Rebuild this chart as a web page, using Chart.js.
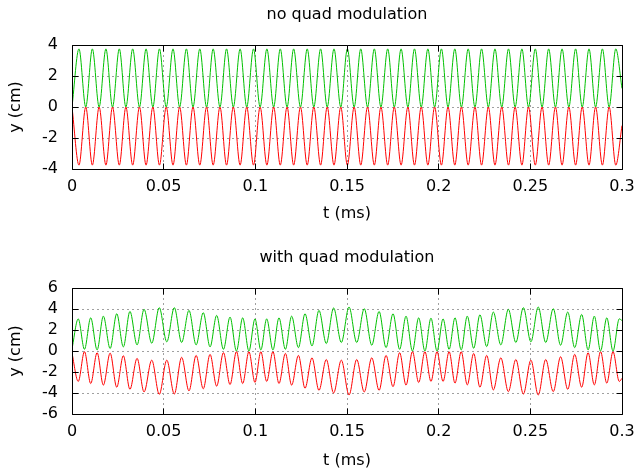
<!DOCTYPE html>
<html><head><meta charset="utf-8">
<script src="https://cdn.jsdelivr.net/npm/chart.js@4/dist/chart.umd.min.js"></script>
<style>
html,body{margin:0;padding:0;background:#fff;}
#wrap{position:relative;width:636px;height:470px;overflow:hidden;}
.box{position:absolute;left:0;width:636px;height:235px;}
</style></head><body>
<div id="wrap">
<div class="box" style="top:0"><canvas id="c1" width="636" height="235"></canvas></div>
<div class="box" style="top:235px"><canvas id="c2" width="636" height="235"></canvas></div>
</div>
<script>
// ---- tick labels ----
const xTickValues = [0, 0.05, 0.1, 0.15, 0.2, 0.25, 0.3];
const xTickLabels = ['0', '0.05', '0.1', '0.15', '0.2', '0.25', '0.3'];
const yTickTopValues = [-4, -2, 0, 2, 4];
const yTickTopLabels = ['-4', '-2', '0', '2', '4'];
const yTickBotValues = [-6, -4, -2, 0, 2, 4, 6];
const yTickBotLabels = ['-6', '-4', '-2', '0', '2', '4', '6'];

// ---- top panel: no quad modulation (times of turning points, ms) ----
const tTop = [0,
 0.0038,0.0075, 0.0111,0.0148, 0.0185,0.0221, 0.0258,0.0294, 0.0331,0.0368,
 0.0404,0.0441, 0.0477,0.0514, 0.0551,0.0587, 0.0624,0.0660, 0.0697,0.0734,
 0.0770,0.0807, 0.0843,0.0880, 0.0917,0.0953, 0.0990,0.1026, 0.1063,0.1100,
 0.1136,0.1173, 0.1209,0.1246, 0.1283,0.1319, 0.1356,0.1392, 0.1429,0.1466,
 0.1502,0.1539, 0.1575,0.1612, 0.1649,0.1685, 0.1722,0.1758, 0.1795,0.1832,
 0.1868,0.1905, 0.1941,0.1978, 0.2015,0.2051, 0.2088,0.2124, 0.2161,0.2198,
 0.2234,0.2271, 0.2307,0.2344, 0.2381,0.2417, 0.2454,0.2490, 0.2527,0.2564,
 0.2600,0.2637, 0.2673,0.2710, 0.2747,0.2783, 0.2820,0.2856, 0.2893,0.2930,
 0.2966, 0.3];
const greenTop = [0,
 3.75,0, 3.75,0, 3.75,0, 3.75,0, 3.75,0, 3.75,0, 3.75,0, 3.75,0, 3.75,0, 3.75,0,
 3.75,0, 3.75,0, 3.75,0, 3.75,0, 3.75,0, 3.75,0, 3.75,0, 3.75,0, 3.75,0, 3.75,0,
 3.75,0, 3.75,0, 3.75,0, 3.75,0, 3.75,0, 3.75,0, 3.75,0, 3.75,0, 3.75,0, 3.75,0,
 3.75,0, 3.75,0, 3.75,0, 3.75,0, 3.75,0, 3.75,0, 3.75,0, 3.75,0, 3.75,0, 3.75,0,
 3.75, 1.2];
const redTop = [0,
 -3.75,0, -3.75,0, -3.75,0, -3.75,0, -3.75,0, -3.75,0, -3.75,0, -3.75,0, -3.75,0, -3.75,0,
 -3.75,0, -3.75,0, -3.75,0, -3.75,0, -3.75,0, -3.75,0, -3.75,0, -3.75,0, -3.75,0, -3.75,0,
 -3.75,0, -3.75,0, -3.75,0, -3.75,0, -3.75,0, -3.75,0, -3.75,0, -3.75,0, -3.75,0, -3.75,0,
 -3.75,0, -3.75,0, -3.75,0, -3.75,0, -3.75,0, -3.75,0, -3.75,0, -3.75,0, -3.75,0, -3.75,0,
 -3.75, -1.2];

// ---- bottom panel: with quad modulation ----
const tBot = [0,
 0.0034,0.0068, 0.0102,0.0137, 0.0171,0.0208, 0.0244,0.0280, 0.0316,0.0355,
 0.0393,0.0435, 0.0476,0.0517, 0.0558,0.0598, 0.0638,0.0677, 0.0716,0.0753,
 0.0789,0.0826, 0.0862,0.0897, 0.0931,0.0965, 0.0998,0.1030, 0.1062,0.1096,
 0.1129,0.1164, 0.1198,0.1235, 0.1271,0.1309, 0.1347,0.1387, 0.1427,0.1469,
 0.1511,0.1553, 0.1594,0.1635, 0.1675,0.1713, 0.1751,0.1787, 0.1822,0.1857,
 0.1891,0.1925, 0.1958,0.1991, 0.2024,0.2057, 0.2089,0.2123, 0.2156,0.2191,
 0.2225,0.2262, 0.2298,0.2339, 0.2380,0.2421, 0.2462,0.2503, 0.2543,0.2584,
 0.2625,0.2665, 0.2704,0.2742, 0.2780,0.2815, 0.2849,0.2883, 0.2917,0.2951,
 0.2985, 0.3];
const greenBot = [0.2,
 3.06,0.16, 3.16,0.10, 3.32,0.23, 3.55,0.39, 3.77,0.58,
 3.97,0.74, 4.13,0.87, 4.13,0.81, 3.87,0.58, 3.65,0.39,
 3.39,0.16, 3.23,0.00, 3.16,0.00, 3.06,0.10, 3.06,0.10,
 3.16,0.16, 3.32,0.32, 3.55,0.48, 3.87,0.71, 4.10,0.81,
 4.19,0.81, 4.03,0.55, 3.77,0.32, 3.55,0.16, 3.32,0.00,
 3.16,0.00, 3.13,0.00, 3.06,0.16, 3.16,0.10, 3.32,0.26,
 3.45,0.42, 3.71,0.58, 3.97,0.81, 4.13,0.87, 4.19,0.81,
 4.03,0.55, 3.71,0.32, 3.48,0.10, 3.32,0.00, 3.16,0.00,
 3.06, 2.9];
const redBot = [-0.2,
 -2.90,-0.06, -3.10,-0.16, -3.25,-0.20, -3.45,-0.45, -3.65,-0.70,
 -3.90,-0.87, -4.13,-0.87, -4.10,-0.60, -3.80,-0.42, -3.60,-0.32,
 -3.35,-0.16, -3.20,-0.06, -3.10,-0.06, -3.00,-0.06, -2.90,-0.06,
 -3.10,-0.23, -3.25,-0.42, -3.55,-0.65, -3.75,-0.81, -4.00,-0.87,
 -4.19,-0.81, -3.90,-0.65, -3.75,-0.42, -3.40,-0.16, -3.25,-0.06,
 -3.00,-0.06, -2.90,-0.06, -2.90,-0.06, -3.06,-0.06, -3.23,-0.23,
 -3.45,-0.42, -3.71,-0.65, -3.87,-0.81, -4.10,-0.87, -4.19,-0.81,
 -3.87,-0.55, -3.65,-0.32, -3.45,-0.16, -3.23,-0.06, -3.06,-0.06,
 -2.9, -2.6];

const FONT = "'DejaVu Sans', sans-serif";
const font = {family: FONT, size: 16, weight: 'normal'};

const framePlugin = {
  id: 'frame',
  afterDatasetsDraw(chart) {
    const {ctx, chartArea: a, scales: {x, y}} = chart;
    const al = p => Math.round(p - 0.5) + 0.5;
    const L = al(a.left), R = al(a.right), T = al(a.top), B = al(a.bottom);
    ctx.save();
    ctx.strokeStyle = '#000';
    ctx.lineWidth = 1;
    ctx.beginPath();
    x.ticks.forEach(t => {
      const px = al(x.getPixelForValue(t.value));
      ctx.moveTo(px, B); ctx.lineTo(px, B - 6);
      ctx.moveTo(px, T); ctx.lineTo(px, T + 6);
    });
    y.ticks.forEach(t => {
      const py = al(y.getPixelForValue(t.value));
      ctx.moveTo(L, py); ctx.lineTo(L + 6, py);
      ctx.moveTo(R, py); ctx.lineTo(R - 6, py);
    });
    ctx.rect(L, T, R - L, B - T);
    ctx.stroke();
    // panel title, centred over the plot area
    const ttl = chart.options.plugins.frame;
    ctx.fillStyle = '#000';
    ctx.font = "16px " + FONT;
    ctx.textAlign = 'center';
    ctx.textBaseline = 'middle';
    ctx.fillText(ttl.text, (a.left + a.right) / 2, ttl.y);
    ctx.restore();
  }
};

function makeChart(id, cfg) {
  const pts = arr => cfg.t.map((t, i) => ({x: t, y: arr[i]}));
  return new Chart(document.getElementById(id), {
    type: 'line',
    data: {datasets: [
      {data: pts(cfg.green), borderColor: '#00c000', borderWidth: 1, pointRadius: 0,
       cubicInterpolationMode: 'monotone', fill: false},
      {data: pts(cfg.red), borderColor: '#ff0000', borderWidth: 1, pointRadius: 0,
       cubicInterpolationMode: 'monotone', fill: false}
    ]},
    options: {
      responsive: false, animation: false, devicePixelRatio: 1,
      layout: {padding: {left: 0, right: 14, top: cfg.plotTop, bottom: 0}, autoPadding: false},
      plugins: {
        legend: {display: false}, tooltip: {enabled: false}, title: {display: false},
        frame: {text: cfg.title, y: cfg.titleY}
      },
      scales: {
        x: {
          type: 'linear', min: 0, max: 0.3,
          afterBuildTicks: s => { s.ticks = xTickValues.map(v => ({value: v})); },
          afterFit: s => { s.height = cfg.xHeight; s.paddingLeft = 0; s.paddingRight = 0; },
          ticks: {callback: (v, i) => xTickLabels[i], color: '#000', font: font,
                  padding: 8, maxRotation: 0, autoSkip: false},
          grid: {color: '#a0a0a0', drawTicks: false, tickLength: 0, lineWidth: 1},
          border: {display: false, dash: [2, 3]},
          title: {display: true, text: 't (ms)', color: '#000', font: font,
                  padding: {top: 0, bottom: cfg.xTitlePad}}
        },
        y: {
          type: 'linear', min: cfg.yMin, max: cfg.yMax,
          afterBuildTicks: s => { s.ticks = cfg.yVals.map(v => ({value: v})); },
          afterFit: s => { s.width = 72; s.paddingTop = 0; s.paddingBottom = 0; },
          ticks: {callback: (v, i) => cfg.yLabels[i], color: '#000', font: font,
                  padding: 14, autoSkip: false},
          grid: {color: '#a0a0a0', drawTicks: false, tickLength: 0, lineWidth: 1},
          border: {display: false, dash: [2, 3]},
          title: {display: true, text: 'y (cm)', color: '#000', font: font,
                  padding: {top: 6, bottom: 0}}
        }
      }
    },
    plugins: [framePlugin]
  });
}

makeChart('c1', {title: 'no quad modulation', t: tTop, green: greenTop, red: redTop,
  yMin: -4, yMax: 4, yVals: yTickTopValues, yLabels: yTickTopLabels,
  plotTop: 45, titleY: 15, xHeight: 66, xTitlePad: 12});
makeChart('c2', {title: 'with quad modulation', t: tBot, green: greenBot, red: redBot,
  yMin: -6, yMax: 6, yVals: yTickBotValues, yLabels: yTickBotLabels,
  plotTop: 53, titleY: 23, xHeight: 56, xTitlePad: 0});
</script>
</body></html>
